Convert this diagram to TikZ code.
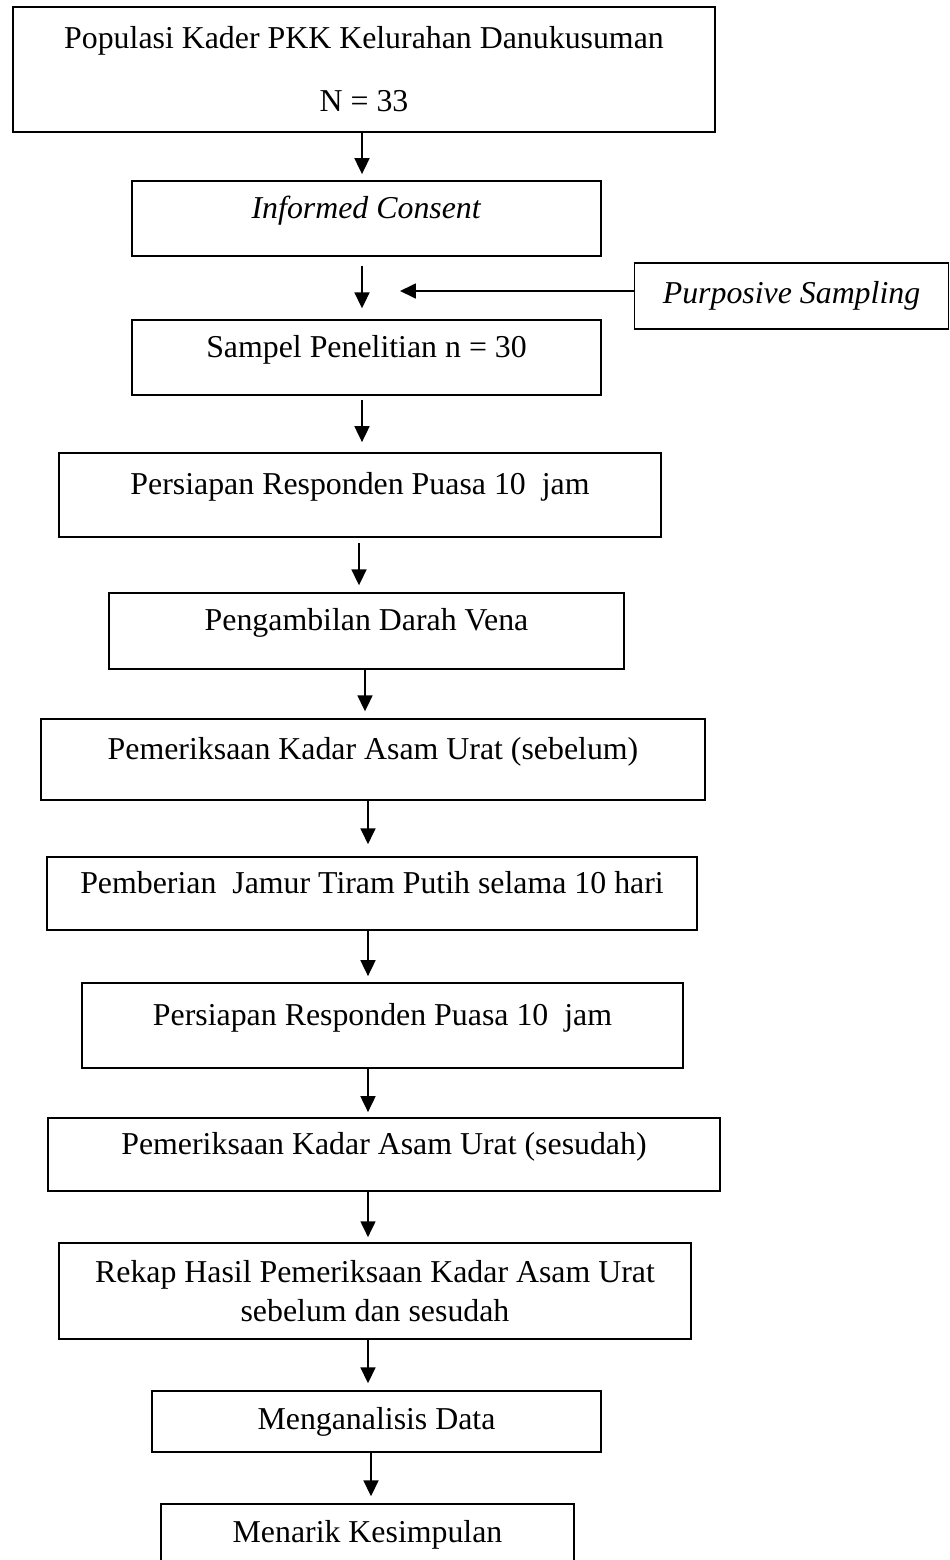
\documentclass[tikz,border=0pt]{standalone}
\usepackage{fontspec}
\setmainfont{Liberation Serif}
\usetikzlibrary{arrows.meta}

\tikzset{
  stepbox/.style={draw, line width=0.6pt, align=center, inner sep=0pt},
  lifted/.style={stepbox, text height=8.3pt, text depth=8.6pt},
  arr/.style={-{Triangle[length=6pt,width=5.6pt]}, line width=0.75pt},
}

\begin{document}
\begin{tikzpicture}[x=0.01324cm, y=-0.01324cm, font=\fontsize{12}{14.5}\selectfont]
  \useasboundingbox (0,0) rectangle (950,1560);
  % 上の箱
  \node[stepbox, minimum width=9.294cm, minimum height=1.655cm,
        font=\fontsize{12}{23.7}\selectfont] (pop) at (364,69.5)
        {Populasi Kader PKK Kelurahan Danukusuman\\N = 33};
  \node[lifted, minimum width=6.210cm, minimum height=0.993cm] (consent) at (366.5,218.5) {\textit{Informed Consent}};
  \node[stepbox, minimum width=4.157cm, minimum height=0.874cm] (purp) at (791.5,296) {\textit{Purposive Sampling}};
  \node[lifted, minimum width=6.210cm, minimum height=0.993cm] (sampel) at (366.5,357.5) {Sampel Penelitian n = 30};
  % 前半の手順
  \node[lifted, minimum width=7.970cm, minimum height=1.112cm] (puasa1) at (360,495) {Persiapan Responden Puasa 10\ \ jam};
  \node[lifted, minimum width=6.819cm, minimum height=1.006cm] (darah) at (366.5,631) {Pengambilan Darah Vena};
  \node[lifted, minimum width=8.791cm, minimum height=1.072cm] (sebelum) at (373,759.5) {Pemeriksaan Kadar Asam Urat (sebelum)};
  \node[lifted, minimum width=8.606cm, minimum height=0.967cm] (jamur) at (372,893.5) {Pemberian\ \ Jamur Tiram Putih selama 10 hari};
  % 後半の手順
  \node[lifted, minimum width=7.957cm, minimum height=1.125cm] (puasa2) at (382.5,1025.5) {Persiapan Responden Puasa 10\ \ jam};
  \node[lifted, minimum width=8.897cm, minimum height=0.967cm] (sesudah) at (384,1154.5) {Pemeriksaan Kadar Asam Urat (sesudah)};
  \node[stepbox, minimum width=8.368cm, minimum height=1.271cm] (rekap) at (375,1291) {Rekap Hasil Pemeriksaan Kadar Asam Urat\\sebelum dan sesudah};
  \node[stepbox, minimum width=5.945cm, minimum height=0.808cm] (analisis) at (376.5,1421.5) {Menganalisis Data};
  \node[stepbox, minimum width=5.468cm, minimum height=0.808cm] (simpul) at (367.5,1534.5) {Menarik Kesimpulan};
  % 矢印
  \foreach \a/\b/\x/\s/\g in {pop/consent/362/0/2.3, consent/sampel/362/3.4/4.1,
      sampel/puasa1/362/1.5/3.8, puasa1/darah/359/1.9/2.6, darah/sebelum/365/0/2.6,
      sebelum/jamur/368/0/4.5, jamur/puasa2/368/0/2.3, puasa2/sesudah/368/0/1.9,
      sesudah/rekap/368/0/1.9, rekap/analisis/368/0/2.6, analisis/simpul/371/0/2.6} {
    \draw[arr, shorten <=\s pt, shorten >=\g pt] (\a.south -| \x,0) -- (\b.north -| \x,0);
  }
  \coordinate (ptip) at (400,291);
  \draw[arr] (purp.west |- ptip) -- (ptip);
\end{tikzpicture}
\end{document}
